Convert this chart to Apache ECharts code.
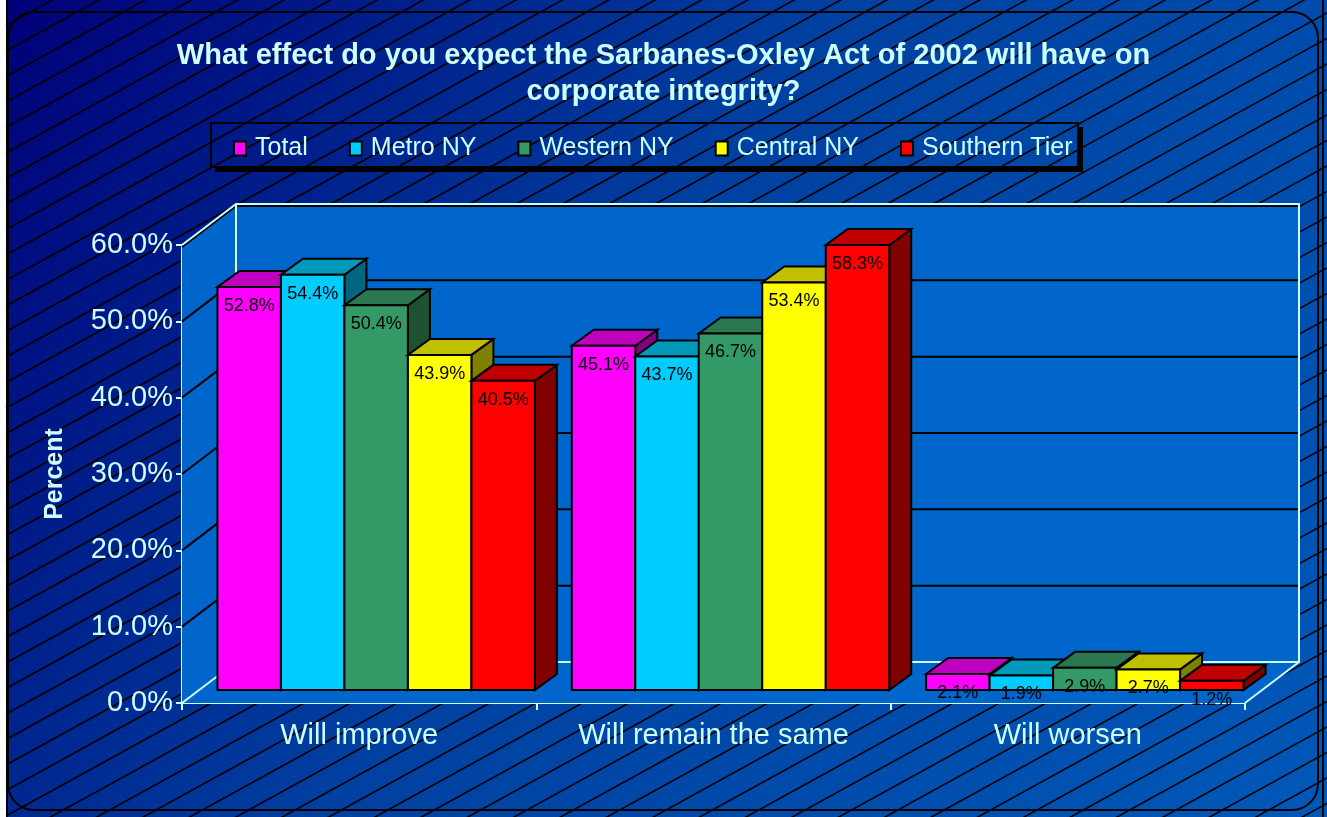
<!DOCTYPE html>
<html>
<head>
<meta charset="utf-8">
<title>Sarbanes-Oxley Act</title>
<script src="https://cdn.jsdelivr.net/npm/echarts@6/dist/echarts.min.js"></script>
<style>
  html, body { margin: 0; padding: 0; background: #fff; }
  #chart { width: 1327px; height: 817px; }
</style>
</head>
<body>
<div id="chart"></div>
<script>
// data
const categories = ['Will improve', 'Will remain the same', 'Will worsen'];
const seriesNames = ['Total', 'Metro NY', 'Western NY', 'Central NY', 'Southern Tier'];
const total = [52.8, 45.1, 2.1];
const metroNY = [54.4, 43.7, 1.9];
const westernNY = [50.4, 46.7, 2.9];
const centralNY = [43.9, 53.4, 2.7];
const southernTier = [40.5, 58.3, 1.2];
const yTicks = [0, 10, 20, 30, 40, 50, 60];

const seriesValues = [total, metroNY, westernNY, centralNY, southernTier];

// colours of the bar faces
const faceColors = ['#FF00FF', '#00CCFF', '#339966', '#FFFF00', '#FF0000'];
const topColors = ['#BF00BF', '#0099BB', '#2A7750', '#C0C000', '#C00000'];
const sideColors = ['#800080', '#006680', '#1E5032', '#808000', '#800000'];

const light = '#CCFFFF';
const wallDepth = [54, -41];   // front axis -> back wall
const barShift = [17, -13];    // front axis -> bar front plane
const barDepth = [22, -16];    // bar front -> bar back

var myChart = echarts.init(document.getElementById('chart'));

// hatched background
const bgGraphics = [{
  type: 'rect', z: -20, silent: true,
  shape: { x: 6, y: 0, width: 1321, height: 817 },
  style: {
    fill: new echarts.graphic.LinearGradient(0, 0, 1, 1, [
      { offset: 0, color: '#000078' },
      { offset: 0.45, color: '#0040A0' },
      { offset: 1, color: '#0058B8' }
    ])
  }
}];
const slope = 0.55;
for (let c = 0; c < 817 + slope * 1330; c += 25.5) {
  bgGraphics.push({
    type: 'line', z: -19, silent: true,
    shape: { x1: 6, y1: c, x2: 1327, y2: c - slope * 1321 },
    style: { stroke: '#000', lineWidth: 1.6 }
  });
}
bgGraphics.push(
  { type: 'line', z: -18, silent: true, shape: { x1: 7, y1: 0, x2: 7, y2: 817 }, style: { stroke: '#000', lineWidth: 2 } },
  { type: 'line', z: -18, silent: true, shape: { x1: 1323, y1: 0, x2: 1323, y2: 817 }, style: { stroke: '#000', lineWidth: 2 } },
  {
    type: 'rect', z: -18, silent: true,
    shape: { x: 8, y: 12, width: 1310, height: 798, r: 26 },
    style: { fill: null, stroke: '#000', lineWidth: 2 }
  },
  // legend box with its shadow
  { type: 'rect', z: -17, silent: true, shape: { x: 215, y: 167, width: 868, height: 5 }, style: { fill: '#000' } },
  { type: 'rect', z: -17, silent: true, shape: { x: 1078, y: 127, width: 5, height: 45 }, style: { fill: '#000' } },
  {
    type: 'rect', z: -16, silent: true,
    shape: { x: 211, y: 123, width: 867, height: 44 },
    style: { fill: null, stroke: '#000', lineWidth: 2 }
  }
);

function renderWalls(params, api) {
  const cs = params.coordSys;
  const gx = cs.x, gw = cs.width;
  const dx = wallDepth[0], dy = wallDepth[1];
  const y0 = api.coord([0, yTicks[0]])[1];
  const yTop = api.coord([0, yTicks[yTicks.length - 1]])[1];
  const children = [];
  const fill = '#0066CC';
  children.push({
    type: 'polygon',
    shape: { points: [[gx, y0], [gx, yTop], [gx + dx, yTop + dy], [gx + dx, y0 + dy]] },
    style: { fill: fill }
  });
  children.push({
    type: 'rect',
    shape: { x: gx + dx, y: yTop + dy, width: gw, height: y0 - yTop },
    style: { fill: fill }
  });
  children.push({
    type: 'polygon',
    shape: { points: [[gx, y0], [gx + gw, y0], [gx + gw + dx, y0 + dy], [gx + dx, y0 + dy]] },
    style: { fill: fill }
  });
  yTicks.forEach(function (v) {
    if (v === 0) return;
    const y = api.coord([0, v])[1];
    const off = v === yTicks[yTicks.length - 1] ? 2 : 0;
    children.push({
      type: 'polyline',
      shape: { points: [[gx, y + off], [gx + dx, y + dy + off], [gx + dx + gw, y + dy + off]] },
      style: { stroke: '#000', lineWidth: 2, fill: null }
    });
  });
  // light edges of the walls
  const edges = [
    [[gx, yTop], [gx + dx, yTop + dy], [gx + dx + gw, yTop + dy], [gx + dx + gw, y0 + dy], [gx + gw, y0]],
    [[gx + dx, yTop + dy], [gx + dx, y0 + dy], [gx + dx + gw, y0 + dy]],
    [[gx, y0], [gx + dx, y0 + dy]]
  ];
  edges.forEach(function (pts) {
    children.push({
      type: 'polyline',
      shape: { points: pts },
      style: { stroke: light, lineWidth: 2, fill: null }
    });
  });
  return { type: 'group', children: children };
}

function barRenderer(si) {
  return function (params, api) {
    const cat = api.value(0), val = api.value(1);
    const band = api.size([1, 0])[0];
    const base = api.coord([cat, 0]);
    const top = api.coord([cat, val]);
    const gap = band * 0.052;
    const bw = (band - 2 * gap) / seriesNames.length;
    const x0 = base[0] - band / 2 + barShift[0] + gap + si * bw;
    const x1 = x0 + bw;
    const yb = base[1] + barShift[1];
    const yt = top[1] + barShift[1];
    const dx = barDepth[0], dy = barDepth[1];
    const stroke = { stroke: '#000', lineWidth: 2, lineJoin: 'miter' };
    return {
      type: 'group',
      children: [
        {
          type: 'polygon',
          shape: { points: [[x1, yt], [x1 + dx, yt + dy], [x1 + dx, yb + dy], [x1, yb]] },
          style: Object.assign({ fill: sideColors[si] }, stroke)
        },
        {
          type: 'polygon',
          shape: { points: [[x0, yt], [x1, yt], [x1 + dx, yt + dy], [x0 + dx, yt + dy]] },
          style: Object.assign({ fill: topColors[si] }, stroke)
        },
        {
          type: 'rect',
          shape: { x: x0, y: yt, width: bw, height: yb - yt },
          style: Object.assign({ fill: faceColors[si] }, stroke)
        },
        {
          type: 'text', z2: 10,
          style: {
            x: x0 + bw / 2, y: yt + 19,
            text: val.toFixed(1) + '%',
            fill: '#000', font: '18px Arial, "Liberation Sans"',
            align: 'center', verticalAlign: 'middle'
          }
        }
      ]
    };
  };
}

const series = [{
  type: 'custom',
  name: 'walls',
  z: 1,
  silent: true,
  renderItem: renderWalls,
  data: [[0, 0]],
  encode: { x: 0, y: 1 }
}];
seriesNames.forEach(function (name, si) {
  series.push({
    type: 'custom',
    name: name,
    z: 2 + si,
    renderItem: barRenderer(si),
    itemStyle: { color: faceColors[si] },
    encode: { x: 0, y: 1 },
    data: seriesValues[si].map(function (v, i) { return [i, v]; })
  });
});

const option = {
  animation: false,
  textStyle: { fontFamily: 'Arial, "Liberation Sans"' },
  graphic: bgGraphics,
  title: {
    text: 'What effect do you expect the Sarbanes-Oxley Act of 2002 will have on\ncorporate integrity?',
    left: 'center',
    top: 33,
    textStyle: {
      color: light,
      fontSize: 29,
      fontWeight: 'bold',
      lineHeight: 36
    }
  },
  legend: {
    data: seriesNames,
    left: 228,
    top: 131,
    icon: 'rect',
    itemWidth: 12,
    itemHeight: 14,
    itemGap: 41,
    itemStyle: { borderColor: '#000', borderWidth: 2 },
    textStyle: { color: light, fontSize: 25, padding: [0, 0, 0, 4] }
  },
  grid: {
    left: 182,
    right: 82,
    top: 245,
    bottom: 114
  },
  xAxis: {
    type: 'category',
    data: categories,
    axisLine: { lineStyle: { color: light, width: 2 } },
    axisTick: { show: true, interval: 0, length: 7, lineStyle: { color: light, width: 2 } },
    axisLabel: { color: light, fontSize: 29, margin: 18, interval: 0 }
  },
  yAxis: {
    type: 'value',
    min: 0,
    max: 60,
    interval: 10,
    name: 'Percent',
    nameLocation: 'middle',
    nameRotate: 90,
    nameGap: 114,
    nameTextStyle: { color: light, fontSize: 25, fontWeight: 'bold' },
    axisLine: { show: true, lineStyle: { color: light, width: 2 } },
    axisTick: { show: true, length: 6, lineStyle: { color: light, width: 2 } },
    axisLabel: {
      color: light, fontSize: 29, margin: 9,
      formatter: function (v) { return v.toFixed(1) + '%'; }
    },
    splitLine: { show: false }
  },
  series: series
};
myChart.setOption(option);
window.onresize = function () {
  myChart.resize();
};
</script>
</body>
</html>
